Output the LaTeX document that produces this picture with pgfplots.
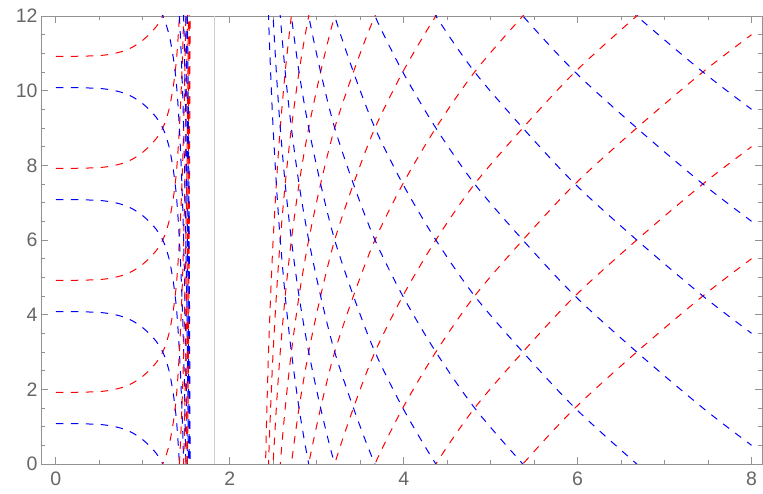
\documentclass[border=0pt]{standalone}
\usepackage{pgfplots}
\pgfplotsset{compat=1.18}
\usepackage{fontspec}
\setmainfont{Liberation Sans}
\definecolor{framegray}{HTML}{929292}
\definecolor{labelgray}{HTML}{666666}
\definecolor{guidegray}{HTML}{CFCFCF}
\pgfplotsset{
  rc/.style={color=red, line width=1pt, dash pattern=on 7.5pt off 7.5pt, smooth, no markers},
  bc/.style={color=blue, line width=1pt, dash pattern=on 7.5pt off 7.5pt, smooth, no markers},
}
\begin{document}
\begin{tikzpicture}
\begin{axis}[
  scale only axis, width=721pt, height=448pt,
  xmin=-0.17, xmax=8.12, ymin=0, ymax=12,
  xtick={0,2,4,6,8}, ytick={0,2,4,6,8,10,12},
  minor tick num=3,
  xtick pos=both, ytick pos=both,
  xticklabel pos=lower, yticklabel pos=left,
  tick align=inside, major tick length=7pt, minor tick length=4pt,
  axis line style={framegray, line width=0.8pt},
  tick style={framegray, line width=0.8pt},
  /pgf/number format/assume math mode=true,
  ticklabel style={font=\fontsize{19.5}{22}\selectfont, text=labelgray},
  xticklabel style={yshift=-4.5pt},
]
\coordinate (sw) at (rel axis cs:0,0);
\coordinate (ne) at (rel axis cs:1,1);
\addplot[guidegray, line width=0.8pt] coordinates {(1.82,0) (1.82,12)};

% ---- left branch: flat bands bending into the pole near x = 1.55
\addplot[rc] coordinates {(0,10.92) (0.2,10.92) (0.4,10.93) (0.55,10.95) (0.7,11.01) (0.8,11.08) (0.9,11.19) (1,11.35) (1.08,11.52) (1.15,11.70) (1.2,11.87) (1.23,12.0) (1.27,12.24)};
\addplot[rc] coordinates {(0,7.92) (0.2,7.92) (0.4,7.93) (0.55,7.95) (0.7,8.01) (0.8,8.08) (0.9,8.19) (1,8.35) (1.08,8.52) (1.15,8.70) (1.2,8.87) (1.23,9.0) (1.27,9.24) (1.31,9.58) (1.35,10.1) (1.38,10.65) (1.4,11.2) (1.42,11.95) (1.44,12.9)};
\addplot[rc] coordinates {(0,4.92) (0.2,4.92) (0.4,4.93) (0.55,4.95) (0.7,5.01) (0.8,5.08) (0.9,5.19) (1,5.35) (1.08,5.52) (1.15,5.70) (1.2,5.87) (1.23,6.0) (1.27,6.24) (1.31,6.58) (1.35,7.1) (1.38,7.65) (1.4,8.2) (1.42,8.95) (1.44,9.9) (1.46,11.15) (1.47,12.0) (1.48,13.0)};
\addplot[rc] coordinates {(0,1.92) (0.2,1.92) (0.4,1.93) (0.55,1.95) (0.7,2.01) (0.8,2.08) (0.9,2.19) (1,2.35) (1.08,2.52) (1.15,2.70) (1.2,2.87) (1.23,3.0) (1.27,3.24) (1.31,3.58) (1.35,4.1) (1.38,4.65) (1.4,5.2) (1.42,5.95) (1.44,6.9) (1.46,8.15) (1.47,9.0) (1.48,10.0) (1.49,11.2) (1.5,12.6) (1.51,14.3)};
\addplot[bc] coordinates {(0,1.08) (0.2,1.08) (0.4,1.07) (0.55,1.05) (0.7,0.99) (0.8,0.92) (0.9,0.81) (1,0.65) (1.08,0.48) (1.15,0.30) (1.2,0.13) (1.23,0) (1.27,-0.24)};
\addplot[bc] coordinates {(0,4.08) (0.2,4.08) (0.4,4.07) (0.55,4.05) (0.7,3.99) (0.8,3.92) (0.9,3.81) (1,3.65) (1.08,3.48) (1.15,3.30) (1.2,3.13) (1.23,3.0) (1.27,2.76) (1.31,2.42) (1.35,1.9) (1.38,1.35) (1.4,0.8) (1.42,0.05) (1.44,-0.9)};
\addplot[bc] coordinates {(0,7.08) (0.2,7.08) (0.4,7.07) (0.55,7.05) (0.7,6.99) (0.8,6.92) (0.9,6.81) (1,6.65) (1.08,6.48) (1.15,6.30) (1.2,6.13) (1.23,6.0) (1.27,5.76) (1.31,5.42) (1.35,4.9) (1.38,4.35) (1.4,3.8) (1.42,3.05) (1.44,2.1) (1.46,0.85) (1.47,0) (1.48,-1)};
\addplot[bc] coordinates {(0,10.08) (0.2,10.08) (0.4,10.07) (0.55,10.05) (0.7,9.99) (0.8,9.92) (0.9,9.81) (1,9.65) (1.08,9.48) (1.15,9.30) (1.2,9.13) (1.23,9.0) (1.27,8.76) (1.31,8.42) (1.35,7.9) (1.38,7.35) (1.4,6.8) (1.42,6.05) (1.44,5.1) (1.46,3.85) (1.47,3.0) (1.48,2.0) (1.49,0.8) (1.5,-0.6)};
\addplot[rc] coordinates {(1.2,-0.13) (1.23,0) (1.27,0.24) (1.31,0.58) (1.35,1.1) (1.38,1.65) (1.4,2.2) (1.42,2.95) (1.44,3.9) (1.46,5.15) (1.47,6.0) (1.48,7.0) (1.49,8.2) (1.5,9.6) (1.51,11.3) (1.52,13.5)};
\addplot[bc] coordinates {(1.2,12.13) (1.23,12) (1.27,11.76) (1.31,11.42) (1.35,10.9) (1.38,10.35) (1.4,9.8) (1.42,9.05) (1.44,8.1) (1.46,6.85) (1.47,6.0) (1.48,5.0) (1.49,3.8) (1.5,2.4) (1.51,0.7) (1.52,-1.5)};
\addplot[rc] coordinates {(1.4,-0.8) (1.42,-0.05) (1.44,0.9) (1.46,2.15) (1.47,3.0) (1.48,4.0) (1.49,5.2) (1.5,6.6) (1.51,8.3) (1.52,10.5) (1.53,13.5)};
\addplot[bc] coordinates {(1.4,12.8) (1.42,12.05) (1.44,11.1) (1.46,9.85) (1.47,9.0) (1.48,8.0) (1.49,6.8) (1.5,5.4) (1.51,3.7) (1.52,1.5) (1.53,-1.5)};
\addplot[rc] coordinates {(1.46,-0.85) (1.47,0) (1.48,1.0) (1.49,2.2) (1.5,3.6) (1.51,5.3) (1.52,7.5) (1.53,10.5) (1.54,15)};
\addplot[bc] coordinates {(1.46,12.85) (1.47,12) (1.48,11) (1.49,9.8) (1.5,8.4) (1.51,6.7) (1.52,4.5) (1.53,1.5) (1.54,-3)};
\addplot[rc] coordinates {(1.49,-0.8) (1.5,0.6) (1.51,2.3) (1.52,4.5) (1.53,7.5) (1.54,12.0) (1.545,15.5)};
\addplot[bc] coordinates {(1.49,12.8) (1.5,11.4) (1.51,9.7) (1.52,7.5) (1.53,4.5) (1.54,0) (1.545,-3.5)};
\addplot[rc] coordinates {(1.5,-2.4) (1.51,-0.7) (1.52,1.5) (1.53,4.5) (1.54,9.0) (1.545,12.5)};
\addplot[bc] coordinates {(1.5,14.4) (1.51,12.7) (1.52,10.5) (1.53,7.5) (1.54,3.0) (1.545,-0.5)};

% ---- right branch: rising (red) and falling (blue) families, up to x = 8
\addplot[rc] coordinates {(4.816,-1.5) (5.37,0) (5.97,1.5) (6.68,3) (7.44,4.5) (8,5.5)};
\addplot[rc] coordinates {(3.99,-1.5) (4.37,0) (4.816,1.5) (5.37,3) (5.97,4.5) (6.68,6) (7.44,7.5) (8,8.5)};
\addplot[rc] coordinates {(3.43,-1.45) (3.67,0) (3.99,1.5) (4.37,3) (4.816,4.5) (5.37,6) (5.97,7.5) (6.68,9) (7.44,10.5) (8,11.5)};
\addplot[rc] coordinates {(3.05,-1.45) (3.207,0) (3.43,1.55) (3.67,3) (3.99,4.5) (4.37,6) (4.816,7.5) (5.37,9) (5.97,10.5) (6.68,12) (7.44,13.5)};
\addplot[rc] coordinates {(2.8,-1.45) (2.908,0) (3.05,1.55) (3.207,3) (3.43,4.55) (3.67,6) (3.99,7.5) (4.37,9) (4.816,10.5) (5.37,12) (5.97,13.5)};
\addplot[rc] coordinates {(2.64,-1.45) (2.709,0) (2.8,1.55) (2.908,3) (3.05,4.55) (3.207,6) (3.43,7.55) (3.67,9) (3.99,10.5) (4.37,12) (4.816,13.5)};
\addplot[rc] coordinates {(2.54,-1.35) (2.581,0) (2.64,1.55) (2.709,3) (2.8,4.55) (2.908,6) (3.05,7.55) (3.207,9) (3.43,10.55) (3.67,12) (3.99,13.5)};
\addplot[rc] coordinates {(2.47,-1.5) (2.499,0) (2.54,1.65) (2.581,3) (2.64,4.55) (2.709,6) (2.8,7.55) (2.908,9) (3.05,10.55) (3.207,12) (3.43,13.55)};
\addplot[rc] coordinates {(2.425,-1.7) (2.446,0) (2.47,1.5) (2.499,3) (2.54,4.65) (2.581,6) (2.64,7.55) (2.709,9) (2.8,10.55) (2.908,12) (3.05,13.55)};
\addplot[rc] coordinates {(2.4,-1.45) (2.412,0) (2.425,1.3) (2.446,3) (2.47,4.5) (2.499,6) (2.54,7.65) (2.581,9) (2.64,10.55) (2.709,12) (2.8,13.55)};
\addplot[bc] coordinates {(5.97,13.5) (6.68,12) (7.44,10.5) (8,9.5)};
\addplot[bc] coordinates {(4.816,13.5) (5.37,12) (5.97,10.5) (6.68,9) (7.44,7.5) (8,6.5)};
\addplot[bc] coordinates {(3.99,13.5) (4.37,12) (4.816,10.5) (5.37,9) (5.97,7.5) (6.68,6) (7.44,4.5) (8,3.5)};
\addplot[bc] coordinates {(3.43,13.45) (3.67,12) (3.99,10.5) (4.37,9) (4.816,7.5) (5.37,6) (5.97,4.5) (6.68,3) (7.44,1.5) (8,0.5)};
\addplot[bc] coordinates {(3.05,13.45) (3.207,12) (3.43,10.45) (3.67,9) (3.99,7.5) (4.37,6) (4.816,4.5) (5.37,3) (5.97,1.5) (6.68,0) (7.44,-1.5)};
\addplot[bc] coordinates {(2.8,13.45) (2.908,12) (3.05,10.45) (3.207,9) (3.43,7.45) (3.67,6) (3.99,4.5) (4.37,3) (4.816,1.5) (5.37,0) (5.97,-1.5)};
\addplot[bc] coordinates {(2.64,13.45) (2.709,12) (2.8,10.45) (2.908,9) (3.05,7.45) (3.207,6) (3.43,4.45) (3.67,3) (3.99,1.5) (4.37,0) (4.816,-1.5)};
\addplot[bc] coordinates {(2.54,13.35) (2.581,12) (2.64,10.45) (2.709,9) (2.8,7.45) (2.908,6) (3.05,4.45) (3.207,3) (3.43,1.45) (3.67,0) (3.99,-1.5)};
\addplot[bc] coordinates {(2.47,13.5) (2.499,12) (2.54,10.35) (2.581,9) (2.64,7.45) (2.709,6) (2.8,4.45) (2.908,3) (3.05,1.45) (3.207,0) (3.43,-1.55)};
\addplot[bc] coordinates {(2.425,13.7) (2.446,12) (2.47,10.5) (2.499,9) (2.54,7.35) (2.581,6) (2.64,4.45) (2.709,3) (2.8,1.45) (2.908,0) (3.05,-1.55)};
\end{axis}
\pgfresetboundingbox
\path[use as bounding box] ([shift={(-41pt,-30pt)}]sw) rectangle ([shift={(1pt,16pt)}]ne);
\end{tikzpicture}
\end{document}
